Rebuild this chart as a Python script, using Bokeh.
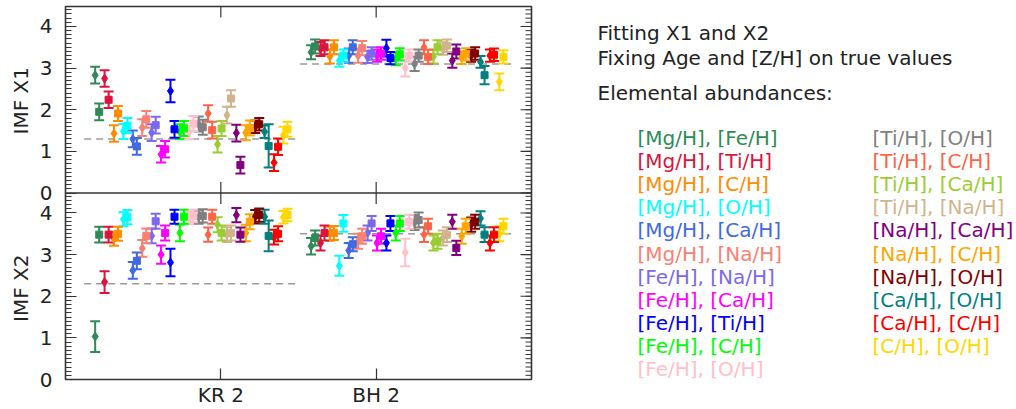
import numpy as np
from bokeh.plotting import figure
from bokeh.layouts import row
from bokeh.models import ColumnDataSource, Range1d, FixedTicker, Span
from bokeh.embed import file_html
from bokeh.resources import INLINE
from bokeh.core.properties import value

# ---------------- data ----------------
categories = ["KR 2", "BH 2"]
combos = ["[Mg/H], [Fe/H]", "[Mg/H], [Ti/H]", "[Mg/H], [C/H]", "[Mg/H], [O/H]",
          "[Mg/H], [Ca/H]", "[Mg/H], [Na/H]", "[Fe/H], [Na/H]", "[Fe/H], [Ca/H]",
          "[Fe/H], [Ti/H]", "[Fe/H], [C/H]", "[Fe/H], [O/H]", "[Ti/H], [O/H]",
          "[Ti/H], [C/H]", "[Ti/H], [Ca/H]", "[Ti/H], [Na/H]", "[Na/H], [Ca/H]",
          "[Na/H], [C/H]", "[Na/H], [O/H]", "[Ca/H], [O/H]", "[Ca/H], [C/H]",
          "[C/H], [O/H]"]
colors = ["#2E8B57", "#DC143C", "#FF8C00", "#00FFFF", "#4169E1", "#FA8072",
          "#7B68EE", "#FF00FF", "#0000FF", "#00FF00", "#FFC0CB", "#808080",
          "#FF6347", "#9ACD32", "#D2B48C", "#800080", "#FFA500", "#800000",
          "#008080", "#FF0000", "#FFD700"]
ytick_values = [0, 1, 2, 3, 4]
ylabels = ["IMF X1", "IMF X2"]
header = ["Fitting X1 and X2", "Fixing Age and [Z/H] on true values",
          "Elemental abundances:"]

true_x1 = [1.3, 3.1]
true_x2 = [2.3, 3.5]

# IMF X1, KR 2
kr_x1_d = [2.83, 2.75, 1.43, 1.48, 1.30, 1.57, 1.45, 0.93, 2.45, 1.47, 1.47,
           1.66, 1.91, 1.17, 1.87, 1.44, 1.45, 1.59, 1.47, 0.73, 1.39]
kr_x1_d_err = [0.20, 0.20, 0.20, 0.18, 0.20, 0.20, 0.20, 0.20, 0.27, 0.18, 0.18,
               0.18, 0.20, 0.20, 0.20, 0.20, 0.18, 0.15, 0.15, 0.20, 0.20]
kr_x1_s = [1.95, 2.24, 1.91, 1.62, 1.12, 1.77, 1.63, 1.05, 1.53, 1.55, 1.67,
           1.58, 1.51, 1.55, 2.27, 0.67, 1.56, 1.65, 1.13, 1.11, 1.53]
kr_x1_s_err = [0.20, 0.20, 0.18, 0.18, 0.20, 0.20, 0.20, 0.20, 0.20, 0.18, 0.18,
               0.18, 0.20, 0.18, 0.20, 0.20, 0.18, 0.15, 0.52, 0.20, 0.18]
# IMF X1, BH 2
bh_x1_d = [3.38, 3.46, 3.28, 3.18, 3.30, 3.30, 3.27, 3.30, 3.48, 3.22, 3.00,
           3.10, 3.50, 3.28, 3.47, 3.18, 3.25, 3.30, 3.15, 3.30, 2.67]
bh_x1_d_err = [0.17, 0.17, 0.17, 0.15, 0.17, 0.17, 0.15, 0.15, 0.20, 0.15, 0.20,
               0.17, 0.17, 0.17, 0.15, 0.17, 0.15, 0.15, 0.14, 0.15, 0.20]
bh_x1_s = [3.52, 3.50, 3.50, 3.30, 3.50, 3.48, 3.35, 3.35, 3.24, 3.33, 3.30,
           3.30, 3.27, 3.50, 3.54, 3.40, 3.33, 3.35, 2.83, 3.32, 3.27]
bh_x1_s_err = [0.17, 0.17, 0.17, 0.15, 0.17, 0.17, 0.15, 0.15, 0.15, 0.15, 0.15,
               0.15, 0.17, 0.17, 0.15, 0.17, 0.15, 0.15, 0.22, 0.15, 0.16]
# IMF X2, KR 2
kr_x2_d = [1.03, 2.34, 3.38, 3.85, 2.62, 3.15, 3.45, 3.00, 2.81, 3.52, 3.88,
           3.90, 3.48, 3.72, 3.48, 3.95, 3.52, 3.91, 3.91, 3.42, 3.90]
kr_x2_d_err = [0.37, 0.26, 0.17, 0.17, 0.20, 0.20, 0.18, 0.22, 0.33, 0.20, 0.15,
               0.16, 0.17, 0.18, 0.18, 0.17, 0.20, 0.16, 0.17, 0.18, 0.15]
kr_x2_s = [3.48, 3.48, 3.50, 3.90, 2.85, 3.45, 3.80, 3.52, 3.91, 3.91, 3.93,
           3.93, 3.91, 3.52, 3.52, 3.48, 3.79, 3.95, 3.45, 3.50, 3.95]
kr_x2_s_err = [0.19, 0.19, 0.17, 0.17, 0.20, 0.18, 0.18, 0.18, 0.17, 0.17, 0.15,
               0.16, 0.17, 0.18, 0.18, 0.17, 0.18, 0.16, 0.37, 0.18, 0.15]
# IMF X2, BH 2
bh_x2_d = [3.20, 3.28, 3.50, 2.73, 3.10, 3.32, 3.52, 3.28, 3.28, 3.52, 3.05,
           3.77, 3.48, 3.28, 3.40, 3.79, 3.44, 3.72, 3.87, 3.28, 3.50]
bh_x2_d_err = [0.20, 0.18, 0.17, 0.24, 0.18, 0.18, 0.18, 0.18, 0.18, 0.18, 0.33,
               0.18, 0.18, 0.18, 0.18, 0.17, 0.18, 0.17, 0.17, 0.18, 0.18]
bh_x2_s = [3.40, 3.52, 3.52, 3.75, 3.25, 3.44, 3.75, 3.44, 3.75, 3.75, 3.79,
           3.83, 3.68, 3.32, 3.48, 3.16, 3.68, 3.79, 3.48, 3.48, 3.68]
bh_x2_s_err = [0.18, 0.18, 0.17, 0.20, 0.17, 0.18, 0.18, 0.18, 0.18, 0.18, 0.17,
               0.18, 0.18, 0.18, 0.18, 0.17, 0.18, 0.17, 0.18, 0.18, 0.18]

# ---------------- layout constants ----------------
W, H = 1016, 409
TITLE_W = 36            # strip holding the two y-axis titles
PLOT_W = 540 - TITLE_W
TOP, BOTTOM = 6, 27     # frame borders (shared by all figures in the row)
X_LO, X_HI = 0, 3
TICK_POS = [1, 2]
GROUP_CENTER = [0.81, 2.2]
STEP = 0.0606
PAIR_OFF = 0.013
DASH_HALF = 0.69
PANEL_H = 4.48          # height of each panel in data units
FONT = "DejaVu Sans"
INK = "#222222"
FRAME = "#333333"
FS = "20px"
MAJOR_LEN, MINOR_LEN = 11, 6


def build_sources(d_vals, d_errs, s_vals, s_errs):
    n = len(combos)
    out = []
    for vals_list, errs_list, sign in ((d_vals, d_errs, -1), (s_vals, s_errs, 1)):
        xs, ys, lo, hi, cs = [], [], [], [], []
        for c in range(len(categories)):
            for i in range(n):
                x = GROUP_CENTER[c] + (i - (n - 1) / 2) * STEP + sign * PAIR_OFF
                v = vals_list[c][i]
                e = errs_list[c][i]
                xs.append(x); ys.append(v); lo.append(v - e); hi.append(v + e)
                cs.append(colors[i])
        out.append(ColumnDataSource(dict(x=xs, y=ys, lo=lo, hi=hi, color=cs)))
    return out


def style_axis(ax, minor=True):
    ax.axis_line_color = None
    ax.major_tick_in = MAJOR_LEN
    ax.major_tick_out = 0
    ax.minor_tick_in = MINOR_LEN if minor else 0
    ax.minor_tick_out = 0
    ax.major_tick_line_color = FRAME
    ax.minor_tick_line_color = FRAME
    ax.major_tick_line_width = 1.2
    ax.minor_tick_line_width = 1
    ax.major_label_text_font = FONT
    ax.major_label_text_font_size = FS
    ax.major_label_text_color = INK


def text_strip(width):
    f = figure(width=width, height=H, output_backend="svg", toolbar_location=None,
               x_range=Range1d(0, width), y_range=Range1d(BOTTOM, H - TOP),
               min_border_left=0, min_border_right=0, min_border_top=TOP,
               min_border_bottom=BOTTOM, title=None)
    f.axis.visible = False
    f.xgrid.visible = False
    f.ygrid.visible = False
    f.outline_line_color = None
    return f


# ---------------- y-axis titles ----------------
pl = text_strip(TITLE_W)
pl.text(x=[20, 20], y=[H - 101, H - 290], text=ylabels, angle=np.pi / 2,
        text_color=INK, text_font=value(FONT), text_font_size=FS,
        text_align="center", text_baseline="middle")

# ---------------- main two-panel plot ----------------
p = figure(width=PLOT_W, height=H, output_backend="svg", toolbar_location=None,
           x_range=Range1d(X_LO, X_HI), y_range=Range1d(0, 2 * PANEL_H),
           min_border_left=63 - TITLE_W, min_border_right=9, min_border_top=TOP,
           min_border_bottom=BOTTOM, title=None)
p.extra_y_ranges = {"top": Range1d(-PANEL_H, PANEL_H)}
p.xgrid.visible = False
p.ygrid.visible = False
p.outline_line_color = FRAME
p.outline_line_width = 1.6

major = [float(t) for t in ytick_values] + [PANEL_H + t for t in ytick_values]
minor = ([round(0.1 * k, 2) for k in range(45)] +
         [round(PANEL_H + 0.1 * k, 2) for k in range(45)])
yt = FixedTicker(ticks=major, minor_ticks=minor)
overrides = {m: str(t) for m, t in zip(major, ytick_values + ytick_values)}
xt = FixedTicker(ticks=TICK_POS, minor_ticks=[])

yax = p.yaxis[0]
yax.ticker = yt
style_axis(yax)
yax.major_label_overrides = overrides
yax.major_label_standoff = 13

xax = p.xaxis[0]
xax.ticker = xt
xax.major_label_overrides = {t: lab for t, lab in zip(TICK_POS, categories)}
style_axis(xax, minor=False)
xax.major_label_standoff = 3

# mirrored inward ticks on the right edge, the top edge and the panel separator
# (dash markers centred on a frame edge: the outer half is clipped by the frame)
p.scatter(x=[X_HI] * len(major), y=major, marker="dash", size=2 * MAJOR_LEN,
          line_color=FRAME, line_width=1.2)
p.scatter(x=[X_HI] * len(minor), y=minor, marker="dash", size=2 * MINOR_LEN,
          line_color=FRAME, line_width=1)
p.scatter(x=TICK_POS + TICK_POS, y=[2 * PANEL_H] * 2 + [PANEL_H] * 2,
          marker="dash", angle=np.pi / 2, size=2 * MAJOR_LEN,
          line_color=FRAME, line_width=1.2)
p.add_layout(Span(location=PANEL_H, dimension="width", line_color=FRAME,
                  line_width=1.6))

panels = [
    ("top", [kr_x1_d, bh_x1_d], [kr_x1_d_err, bh_x1_d_err],
     [kr_x1_s, bh_x1_s], [kr_x1_s_err, bh_x1_s_err], true_x1),
    ("default", [kr_x2_d, bh_x2_d], [kr_x2_d_err, bh_x2_d_err],
     [kr_x2_s, bh_x2_s], [kr_x2_s_err, bh_x2_s_err], true_x2),
]
for rng, dv, de, sv, se, truth in panels:
    p.segment(x0=[g - DASH_HALF for g in GROUP_CENTER], y0=truth,
              x1=[g + DASH_HALF for g in GROUP_CENTER], y1=truth,
              line_color="#999999", line_width=1.5, line_dash="7 5",
              y_range_name=rng)
    src_d, src_s = build_sources(dv, de, sv, se)
    for src in (src_d, src_s):
        p.segment(x0="x", y0="lo", x1="x", y1="hi", line_color="color",
                  line_width=2, source=src, y_range_name=rng)
        p.scatter(x="x", y="lo", marker="dash", size=10, line_color="color",
                  line_width=2, source=src, y_range_name=rng)
        p.scatter(x="x", y="hi", marker="dash", size=10, line_color="color",
                  line_width=2, source=src, y_range_name=rng)
    p.scatter(x="x", y="y", marker="diamond", size=9, fill_color="color",
              line_color="color", source=src_d, y_range_name=rng)
    p.scatter(x="x", y="y", marker="square", size=7, fill_color="color",
              line_color="color", source=src_s, y_range_name=rng)

# ---------------- legend panel ----------------
LEG_W = W - TITLE_W - PLOT_W
p3 = text_strip(LEG_W)
p3.text(x=[57, 57, 57], y=[H - 33, H - 58, H - 93], text=header, text_color=INK,
        text_font=value(FONT), text_font_size=FS, text_baseline="middle",
        text_align="left")

n_left = 11
lx = [97 if k < n_left else 332 for k in range(len(combos))]
ly = [H - (139 + 23.2 * (k if k < n_left else k - n_left)) for k in range(len(combos))]
p3.text(x=lx, y=ly, text=combos, text_color=colors, text_font=value(FONT),
        text_font_size=FS, text_baseline="middle", text_align="left")

layout = row(pl, p, p3, spacing=0)
open("out.html", "w").write(file_html(layout, INLINE))
